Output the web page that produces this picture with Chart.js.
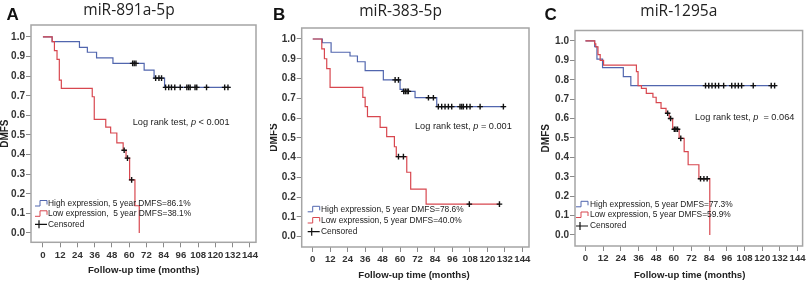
<!DOCTYPE html>
<html><head><meta charset="utf-8">
<script src="https://cdn.jsdelivr.net/npm/chart.js@4"></script>
<style>
body{margin:0;background:#fff;width:808px;height:285px;overflow:hidden;position:relative}
.panel{position:absolute;top:0;width:268px;height:285px}
canvas{position:absolute;left:0;top:0}
</style></head><body>
<div class="panel" style="left:0"><canvas id="cA" width="268" height="285"></canvas></div>
<div class="panel" style="left:270px"><canvas id="cB" width="268" height="285"></canvas></div>
<div class="panel" style="left:540px"><canvas id="cC" width="268" height="285"></canvas></div>
<script>
// ---------- shared tick labels ----------
const xTickValues = [0,12,24,36,48,60,72,84,96,108,120,132,144];
const yTickValues = [0.0,0.1,0.2,0.3,0.4,0.5,0.6,0.7,0.8,0.9,1.0];
const xAxisTitle = 'Follow-up time (months)';
const yAxisTitle = 'DMFS';

// ---------- Panel A: miR-891a-5p ----------
const titleA = 'miR-891a-5p';
const highTimesA = [0, 6.4, 25.4, 30.9, 37.3, 48.7, 70.4, 77.3, 84.6, 130.3];
const highSurvA  = [1, 0.976, 0.947, 0.922, 0.893, 0.865, 0.831, 0.79, 0.743, 0.743];
const highCensTimesA = [62.4, 63.5, 64.7, 78.4, 80.7, 82.5, 85.3, 87.5, 89.4, 91.7, 95.5, 100.1, 101.3, 102.4, 105.8, 107.0, 113.8, 126.4, 128.7];
const highCensSurvA  = [0.865, 0.865, 0.865, 0.79, 0.79, 0.79, 0.743, 0.743, 0.743, 0.743, 0.743, 0.743, 0.743, 0.743, 0.743, 0.743, 0.743, 0.743, 0.743];
const lowTimesA = [0, 6.4, 8.0, 9.8, 11.4, 12.8, 34.3, 35.7, 43.7, 47.1, 51.4, 55.8, 57.8, 60.3, 64.0, 67.0];
const lowSurvA  = [1, 0.976, 0.93, 0.886, 0.78, 0.738, 0.695, 0.58, 0.54, 0.51, 0.46, 0.422, 0.382, 0.271, 0.139, 0.0];
const lowCensTimesA = [56.5, 58.8, 61.7];
const lowCensSurvA  = [0.422, 0.382, 0.271];
const legendA = ['High expression, 5 year DMFS=86.1%', 'Low expression,  5 year DMFS=38.1%', 'Censored'];
const logrankA = ['Log rank test, ', 'p', ' < 0.001'];

// ---------- Panel B: miR-383-5p ----------
const titleB = 'miR-383-5p';
const highTimesB = [0, 6.6, 12.6, 25.6, 30.7, 36.0, 48.5, 60.0, 61.8, 70.3, 85.2, 132.1];
const highSurvB  = [1, 0.981, 0.933, 0.914, 0.885, 0.84, 0.793, 0.745, 0.735, 0.703, 0.658, 0.658];
const highCensTimesB = [56.6, 58.9, 62.5, 63.6, 64.8, 65.7, 79.5, 82.9, 86.3, 88.6, 90.9, 93.2, 95.5, 101.2, 102.4, 103.5, 105.8, 108.1, 115.0, 131.0];
const highCensSurvB  = [0.793, 0.793, 0.735, 0.735, 0.735, 0.735, 0.703, 0.703, 0.658, 0.658, 0.658, 0.658, 0.658, 0.658, 0.658, 0.658, 0.658, 0.658, 0.658, 0.658];
const lowTimesB = [0, 6.2, 8.0, 9.6, 11.9, 34.4, 36.0, 37.6, 46.3, 50.8, 56.1, 57.4, 64.6, 67.3, 77.9, 128.7];
const lowSurvB  = [1, 0.95, 0.90, 0.85, 0.755, 0.705, 0.658, 0.607, 0.553, 0.506, 0.455, 0.405, 0.326, 0.241, 0.165, 0.165];
const lowCensTimesB = [58.9, 62.3, 107.6, 128.3];
const lowCensSurvB  = [0.405, 0.405, 0.165, 0.165];
const legendB = ['High expression, 5 year DMFS=78.6%', 'Low expression, 5 year DMFS=40.0%', 'Censored'];
const logrankB = ['Log rank test, ', 'p', ' = 0.001'];

// ---------- Panel C: miR-1295a ----------
const titleC = 'miR-1295a';
const highTimesC = [0, 6.25, 7.8, 11.6, 25.7, 30.8, 129.5];
const highSurvC  = [1, 0.971, 0.906, 0.863, 0.816, 0.770, 0.770];
const highCensTimesC = [81.5, 83.7, 85.9, 88.2, 90.4, 93.8, 99.3, 101.6, 103.8, 106.0, 113.9, 126.1, 128.4];
const highCensSurvC  = [0.77, 0.77, 0.77, 0.77, 0.77, 0.77, 0.77, 0.77, 0.77, 0.77, 0.77, 0.77, 0.77];
const lowTimesC = [0, 6.25, 7.0, 8.5, 10.0, 12.3, 34.6, 35.7, 38.0, 41.3, 45.8, 48.0, 51.3, 54.7, 56.9, 59.2, 63.6, 67.0, 69.7, 77.0, 84.4];
const lowSurvC  = [1, 0.985, 0.97, 0.93, 0.90, 0.876, 0.842, 0.77, 0.756, 0.73, 0.71, 0.682, 0.653, 0.627, 0.60, 0.545, 0.498, 0.43, 0.362, 0.29, 0.0];
const lowCensTimesC = [55.8, 57.8, 60.3, 61.4, 62.5, 64.7, 78.1, 80.4, 82.6];
const lowCensSurvC  = [0.627, 0.60, 0.545, 0.545, 0.545, 0.498, 0.29, 0.29, 0.29];
const legendC = ['High expression, 5 year DMFS=77.3%', 'Low expression, 5 year DMFS=59.9%', 'Censored'];
const logrankC = ['Log rank test, ', 'p', '  = 0.064'];

// ---------- styles ----------
const BLUE = '#5166ae';
const RED = '#d8474f';
const FONT = '"Liberation Sans", Arial, sans-serif';

const toPts = (ts, ss) => ts.map((t, i) => ({x: t, y: ss[i]}));

const decor = {
  id: 'decor',
  beforeDatasetsDraw(chart, args, o) {
    const {ctx, chartArea: a} = chart;
    ctx.save();
    ctx.strokeStyle = '#a5a5a5';
    ctx.lineWidth = 1.5;
    ctx.strokeRect(a.left, a.top, a.right - a.left, a.bottom - a.top);
    ctx.restore();
  },
  afterDraw(chart, args, o) {
    const {ctx, chartArea: a} = chart;
    ctx.save();
    // panel letter
    ctx.fillStyle = '#111';
    ctx.font = 'bold 17px ' + FONT;
    ctx.textAlign = 'left';
    ctx.textBaseline = 'alphabetic';
    ctx.fillText(o.letter, o.letterX, 19.5);
    // title
    ctx.font = '15.5px "Open Sans", sans-serif';
    ctx.textAlign = 'center';
    ctx.fillStyle = '#222';
    ctx.fillText(o.title, o.titleX, o.titleY);
    // y axis title
    ctx.save();
    ctx.translate(o.dmfsX, (a.top + a.bottom) / 2);
    ctx.rotate(-Math.PI / 2);
    ctx.font = 'bold 10px ' + FONT;
    ctx.textAlign = 'center';
    ctx.textBaseline = 'middle';
    ctx.fillStyle = '#222';
    ctx.fillText(yAxisTitle, 0, 0);
    ctx.restore();
    // x axis title
    ctx.font = 'bold 9.6px ' + FONT;
    ctx.textAlign = 'center';
    ctx.textBaseline = 'middle';
    ctx.fillStyle = '#222';
    ctx.fillText(xAxisTitle, o.xTitleX, o.xTitleY);
    // log rank
    ctx.textAlign = 'left';
    let x = o.lrX;
    o.logrank.forEach((s, i) => {
      ctx.font = (i === 1 ? 'italic ' : '') + '9.2px ' + FONT;
      ctx.fillText(s, x, o.lrY);
      x += ctx.measureText(s).width;
    });
    // legend
    ctx.font = '8.4px ' + FONT;
    ctx.lineWidth = 1;
    const cols = [BLUE, RED];
    o.legend.forEach((s, i) => {
      const y = o.legY[i];
      const x0 = o.legX;
      if (i < 2) {
        ctx.strokeStyle = cols[i];
        ctx.beginPath();
        ctx.moveTo(x0, y + 2.5);
        ctx.lineTo(x0 + 5, y + 2.5);
        ctx.lineTo(x0 + 5, y - 3);
        ctx.lineTo(x0 + 12, y - 3);
        ctx.lineTo(x0 + 12, y + 1);
        ctx.stroke();
      } else {
        ctx.strokeStyle = '#111';
        ctx.lineWidth = 1.2;
        ctx.beginPath();
        ctx.moveTo(x0, y);
        ctx.lineTo(x0 + 12, y);
        ctx.moveTo(x0 + 4, y - 4);
        ctx.lineTo(x0 + 4, y + 4);
        ctx.stroke();
      }
      ctx.fillStyle = '#222';
      ctx.textBaseline = 'middle';
      ctx.fillText(s, o.legTextX, y);
    });
    ctx.restore();
  }
};

function makePanel(id, d) {
  const datasets = [
    {data: toPts(d.hct, d.hcs), showLine: false, pointStyle: 'cross', pointRadius: 2.8, borderColor: '#111', backgroundColor: '#111', pointBorderWidth: 1.4},
    {data: toPts(d.lct, d.lcs), showLine: false, pointStyle: 'cross', pointRadius: 2.8, borderColor: '#111', backgroundColor: '#111', pointBorderWidth: 1.4},
    {data: toPts(d.lt, d.ls), showLine: true, stepped: true, borderColor: RED, borderWidth: 1.2, pointRadius: 0},
    {data: toPts(d.ht, d.hs), showLine: true, stepped: true, borderColor: BLUE, borderWidth: 1.2, pointRadius: 0}
  ];
  return new Chart(document.getElementById(id), {
    type: 'scatter',
    data: {datasets},
    plugins: [decor],
    options: {
      responsive: false, animation: false, devicePixelRatio: 1,
      layout: {padding: {left: 0, top: d.top, right: 268 - d.right, bottom: 0}},
      plugins: {legend: {display: false}, tooltip: {enabled: false}, decor: d.deco},
      scales: {
        x: {
          type: 'linear', min: d.xmin, max: d.xmax,
          afterBuildTicks: s => { s.ticks = xTickValues.map(v => ({value: v})); },
          afterFit: s => { s.height = 285 - d.bottom; },
          grid: {drawOnChartArea: false, drawTicks: true, tickLength: 5, color: '#8a8a8a', lineWidth: 1},
          border: {display: false},
          ticks: {autoSkip: false, maxRotation: 0, padding: 2, color: '#333', font: {family: FONT, size: 9.6, weight: 'bold'}}
        },
        y: {
          type: 'linear', min: d.ymin, max: d.ymax,
          afterBuildTicks: s => { s.ticks = yTickValues.map(v => ({value: v})); },
          afterFit: s => { s.width = d.left; },
          grid: {drawOnChartArea: false, drawTicks: true, tickLength: 5, color: '#8a8a8a', lineWidth: 1},
          border: {display: false},
          ticks: {padding: 1, color: '#333', font: {family: FONT, size: 10, weight: 'bold'}, callback: v => v.toFixed(1)}
        }
      }
    }
  });
}

makePanel('cA', {
  ht: highTimesA, hs: highSurvA, hct: highCensTimesA, hcs: highCensSurvA,
  lt: lowTimesA, ls: lowSurvA, lct: lowCensTimesA, lcs: lowCensSurvA,
  left: 31, top: 25, right: 256, bottom: 242.3,
  xmin: -8.3, xmax: 148.2, ymin: -0.0475, ymax: 1.061,
  deco: {letter: 'A', letterX: 6.5, title: titleA, titleX: 129, titleY: 14.5, dmfsX: 5, xTitleX: 143.7, xTitleY: 270,
         logrank: logrankA, lrX: 132.7, lrY: 122.3, legend: legendA, legX: 35, legTextX: 48, legY: [203.5, 213.8, 224.3]}
});
makePanel('cB', {
  ht: highTimesB, hs: highSurvB, hct: highCensTimesB, hcs: highCensSurvB,
  lt: lowTimesB, ls: lowSurvB, lct: lowCensTimesB, lcs: lowCensSurvB,
  left: 31.7, top: 28, right: 259, bottom: 247,
  xmin: -7.6, xmax: 148.6, ymin: -0.052, ymax: 1.0556,
  deco: {letter: 'B', letterX: 3, title: titleB, titleX: 130.5, titleY: 15.5, dmfsX: 4, xTitleX: 144, xTitleY: 275,
         logrank: logrankB, lrX: 145, lrY: 126, legend: legendB, legX: 37.7, legTextX: 51, legY: [209.3, 220.5, 231.7]}
});
makePanel('cC', {
  ht: highTimesC, hs: highSurvC, hct: highCensTimesC, hcs: highCensSurvC,
  lt: lowTimesC, ls: lowSurvC, lct: lowCensTimesC, lcs: lowCensSurvC,
  left: 35, top: 30.5, right: 263.3, bottom: 246,
  xmin: -7.1, xmax: 147.4, ymin: -0.057, ymax: 1.054,
  deco: {letter: 'C', letterX: 4.5, title: titleC, titleX: 138.8, titleY: 16, dmfsX: 6, xTitleX: 149.7, xTitleY: 275,
         logrank: logrankC, lrX: 155, lrY: 117, legend: legendC, legX: 36, legTextX: 50, legY: [204.3, 215, 226]}
});
</script>
</body></html>
